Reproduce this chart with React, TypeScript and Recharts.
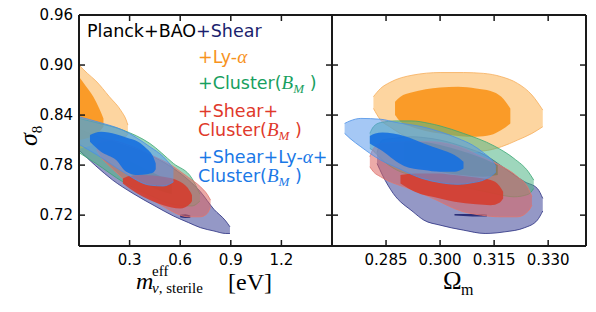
import React from "react";
import { Area, ComposedChart, XAxis, YAxis } from "recharts";

// each contour is a list of [x, sigma8 low, sigma8 high]
type Pt = [number, number, number];

const sigma8Ticks = [0.72, 0.78, 0.84, 0.9, 0.96];
const mNuTicks = [0.3, 0.6, 0.9, 1.2];
const omegaTicks = [0.285, 0.3, 0.315, 0.33];

// left panel: m_nu,sterile [eV] vs sigma8
const shearOuterM: Pt[] = [
  [0, 0.798, 0.823], [0.1, 0.779, 0.815], [0.2, 0.762, 0.808], [0.32, 0.746, 0.8],
  [0.45, 0.731, 0.789], [0.56, 0.719, 0.776], [0.65, 0.711, 0.762], [0.72, 0.705, 0.748],
  [0.8, 0.701, 0.727], [0.87, 0.698, 0.713], [0.895, 0.698, 0.706],
];
const shearInnerM: Pt[] = [[0.6, 0.7175, 0.7205], [0.63, 0.7165, 0.721], [0.66, 0.717, 0.7195]];
const lyaOuterM: Pt[] = [
  [0, 0.8, 0.9], [0.05, 0.803, 0.89], [0.1, 0.806, 0.881], [0.18, 0.81, 0.862],
  [0.25, 0.813, 0.845], [0.28, 0.815, 0.834], [0.29, 0.817, 0.828],
];
const lyaInnerM: Pt[] = [
  [0, 0.81, 0.886], [0.04, 0.812, 0.875], [0.085, 0.815, 0.862], [0.12, 0.82, 0.848], [0.145, 0.826, 0.836],
];
const clusterOuterM: Pt[] = [
  [0, 0.795, 0.836], [0.1, 0.782, 0.831], [0.26, 0.76, 0.822], [0.42, 0.744, 0.806],
  [0.56, 0.733, 0.782], [0.67, 0.731, 0.764], [0.717, 0.737, 0.745],
];
const clusterInnerM: Pt[] = [[0.3, 0.77, 0.785], [0.45, 0.752, 0.77], [0.55, 0.745, 0.76]];
const shearClusterOuterM: Pt[] = [
  [0.105, 0.798, 0.804], [0.14, 0.787, 0.81], [0.165, 0.782, 0.81], [0.32, 0.754, 0.802],
  [0.45, 0.737, 0.79], [0.52, 0.728, 0.783], [0.65, 0.718, 0.765], [0.72, 0.718, 0.754],
  [0.76, 0.722, 0.745], [0.78, 0.73, 0.738],
];
const shearClusterInnerM: Pt[] = [
  [0.26, 0.758, 0.764], [0.3, 0.752, 0.767], [0.38, 0.742, 0.768], [0.5, 0.732, 0.766],
  [0.6, 0.728, 0.76], [0.66, 0.734, 0.748], [0.67, 0.737, 0.744],
];
const allOuterM: Pt[] = [
  [0, 0.805, 0.838], [0.125, 0.79, 0.831], [0.26, 0.772, 0.822], [0.42, 0.756, 0.802],
  [0.5, 0.755, 0.79], [0.56, 0.76, 0.776],
];
const allInnerM: Pt[] = [
  [0.065, 0.808, 0.816], [0.13, 0.796, 0.82], [0.22, 0.786, 0.817], [0.28, 0.772, 0.813],
  [0.35, 0.768, 0.808], [0.4, 0.769, 0.8], [0.44, 0.771, 0.79], [0.455, 0.775, 0.782],
];

// right panel: Omega_m vs sigma8
const shearOuterO: Pt[] = [
  [0.2825, 0.782, 0.795], [0.284, 0.768, 0.81], [0.287, 0.746, 0.812], [0.2925, 0.724, 0.814],
  [0.2955, 0.714, 0.813], [0.3, 0.708, 0.81], [0.3065, 0.702, 0.802], [0.3125, 0.698, 0.792],
  [0.318, 0.7, 0.776], [0.3235, 0.705, 0.76], [0.327, 0.714, 0.752], [0.3285, 0.725, 0.74],
];
const shearInnerO: Pt[] = [[0.304, 0.7195, 0.7215], [0.309, 0.7185, 0.7215], [0.313, 0.7185, 0.7205]];
const lyaOuterO: Pt[] = [
  [0.2815, 0.848, 0.862], [0.2835, 0.834, 0.872], [0.286, 0.826, 0.879], [0.2925, 0.81, 0.888],
  [0.3, 0.801, 0.891], [0.3065, 0.796, 0.891], [0.312, 0.797, 0.89], [0.317, 0.802, 0.886],
  [0.3215, 0.81, 0.878], [0.3255, 0.818, 0.864], [0.3285, 0.826, 0.846],
];
const lyaInnerO: Pt[] = [
  [0.2875, 0.84, 0.856], [0.289, 0.832, 0.862], [0.292, 0.826, 0.867], [0.296, 0.821, 0.871],
  [0.3, 0.818, 0.873], [0.305, 0.815, 0.874], [0.31, 0.814, 0.872], [0.314, 0.816, 0.869],
  [0.317, 0.822, 0.862], [0.3195, 0.83, 0.848],
];
const clusterOuterO: Pt[] = [
  [0.2805, 0.8, 0.818], [0.2815, 0.797, 0.826], [0.2835, 0.788, 0.831], [0.288, 0.774, 0.833],
  [0.292, 0.768, 0.833], [0.297, 0.762, 0.83], [0.3, 0.76, 0.827], [0.3065, 0.754, 0.818],
  [0.315, 0.746, 0.803], [0.3205, 0.742, 0.788], [0.3245, 0.745, 0.772], [0.326, 0.752, 0.762],
];
const clusterInnerO: Pt[] = [
  [0.29, 0.785, 0.808], [0.295, 0.778, 0.808], [0.3, 0.772, 0.804], [0.306, 0.768, 0.797],
  [0.312, 0.766, 0.788], [0.316, 0.768, 0.78],
];
const shearClusterOuterO: Pt[] = [
  [0.2805, 0.778, 0.79], [0.2815, 0.772, 0.8], [0.2835, 0.766, 0.806], [0.2925, 0.75, 0.808],
  [0.297, 0.742, 0.808], [0.3065, 0.724, 0.8], [0.3115, 0.72, 0.79], [0.3165, 0.718, 0.78],
  [0.3215, 0.718, 0.766], [0.3245, 0.725, 0.752], [0.3255, 0.732, 0.742],
];
const shearClusterInnerO: Pt[] = [
  [0.289, 0.758, 0.768], [0.293, 0.748, 0.77], [0.3, 0.74, 0.77], [0.304, 0.736, 0.768],
  [0.31, 0.733, 0.765], [0.314, 0.732, 0.762], [0.3165, 0.735, 0.755], [0.3175, 0.74, 0.748],
];
const allOuterO: Pt[] = [
  [0.2735, 0.818, 0.83], [0.275, 0.812, 0.833], [0.278, 0.802, 0.836], [0.2835, 0.786, 0.835],
  [0.288, 0.777, 0.831], [0.295, 0.764, 0.826], [0.3, 0.759, 0.82], [0.305, 0.757, 0.812],
  [0.309, 0.759, 0.804], [0.312, 0.762, 0.795], [0.3145, 0.768, 0.785], [0.3155, 0.772, 0.778],
];
const allInnerO: Pt[] = [
  [0.2805, 0.806, 0.815], [0.282, 0.802, 0.818], [0.284, 0.797, 0.819], [0.287, 0.787, 0.818],
  [0.29, 0.779, 0.815], [0.2955, 0.774, 0.806], [0.3, 0.772, 0.799], [0.304, 0.772, 0.792],
  [0.3065, 0.776, 0.784],
];

const NAVY = "#1b1f6e";
const ORANGE = "#f7931e";
const GREEN = "#17a060";
const RED = "#e0392b";
const BLUE = "#1a78e6";
const INK = "#1a1a1a";

const styles = {
  shear: { outer: "#3d4397", line: "#2a2f80", inner: "#1f2470" },
  lya: { outer: "#fbb252", line: "#f6ad5a", inner: "#f9951b" },
  cluster: { outer: "#4fb585", line: "#3aa874", inner: "#16955a" },
  shearCluster: { outer: "#dc6460", line: "#e0766f", inner: "#d43d2f" },
  all: { outer: "#5b9bec", line: "#4a8fe6", inner: "#1670e0" },
};

type Layer = { id: string; pts: Pt[]; fill: string; stroke: string; opacity: number; width: number };

const layers = (sets: [keyof typeof styles, Pt[], Pt[]][]): Layer[] =>
  sets.flatMap(([k, outer, inner]) => [
    { id: k + "-o", pts: outer, fill: styles[k].outer, stroke: styles[k].line, opacity: 0.55, width: 0.8 },
    { id: k + "-i", pts: inner, fill: styles[k].inner, stroke: styles[k].inner, opacity: 0.9, width: 0 },
  ]);

const leftLayers = layers([
  ["shear", shearOuterM, shearInnerM],
  ["lya", lyaOuterM, lyaInnerM],
  ["cluster", clusterOuterM, clusterInnerM],
  ["shearCluster", shearClusterOuterM, shearClusterInnerM],
  ["all", allOuterM, allInnerM],
]);
const rightLayers = layers([
  ["shear", shearOuterO, shearInnerO],
  ["lya", lyaOuterO, lyaInnerO],
  ["cluster", clusterOuterO, clusterInnerO],
  ["shearCluster", shearClusterOuterO, shearClusterInnerO],
  ["all", allOuterO, allInnerO],
]);

const rows = (pts: Pt[]) => pts.map(([x, lo, hi]) => ({ x, band: [lo, hi] }));

const Y_DOMAIN: [number, number] = [0.683, 0.96];
const TICK_LEN = 6;
const font = { fill: "#000", fontSize: 15, fontFamily: "DejaVu Sans" };

// inward matplotlib-style tick at the coordinate recharts hands over
function AxisTick(props: any) {
  const { x, y, side } = props;
  const d =
    side === "bottom" ? `M${x},${y}V${y - TICK_LEN}`
    : side === "top" ? `M${x},${y}V${y + TICK_LEN}`
    : side === "right" ? `M${x},${y}H${x - TICK_LEN}`
    : `M${x},${y}H${x + TICK_LEN}`;
  return <path d={d} stroke={INK} strokeWidth={1.5} />;
}

type PanelProps = {
  width: number;
  xDomain: [number, number];
  xTicks: number[];
  fmt: (v: number) => string;
  data: Layer[];
  showY: boolean;
  right: number;
};

// contours plus tick labels
function Contours({ width, xDomain, xTicks, fmt, data, showY, right }: PanelProps) {
  return (
    <ComposedChart width={width} height={312} margin={{ top: 15, right, bottom: 0, left: 0 }}>
      <XAxis
        xAxisId="b"
        dataKey="x"
        type="number"
        domain={xDomain}
        allowDataOverflow
        ticks={xTicks}
        interval={0}
        tickFormatter={fmt}
        height={66}
        tickSize={0}
        tickMargin={8}
        axisLine={false}
        tickLine={false}
        tick={font}
      />
      <YAxis
        yAxisId="l"
        type="number"
        domain={Y_DOMAIN}
        allowDataOverflow
        ticks={sigma8Ticks}
        interval={0}
        tickFormatter={(v: number) => v.toFixed(2)}
        width={showY ? 79 : 0}
        hide={!showY}
        tickSize={0}
        tickMargin={6}
        axisLine={false}
        tickLine={false}
        tick={font}
      />
      {data.map((l) => (
        <Area
          key={l.id}
          xAxisId="b"
          yAxisId="l"
          data={rows(l.pts)}
          dataKey="band"
          type="monotone"
          fill={l.fill}
          fillOpacity={l.opacity}
          stroke={l.stroke}
          strokeWidth={l.width}
          isAnimationActive={false}
        />
      ))}
    </ComposedChart>
  );
}

// box frame with inward ticks on all four sides, laid over the contours
function Frame({ width, xDomain, xTicks, showY, right }: PanelProps) {
  const line = { stroke: INK, strokeWidth: 2 };
  return (
    <ComposedChart
      width={width}
      height={312}
      data={xTicks.map((x) => ({ x }))}
      margin={{ top: 14, right, bottom: 0, left: 0 }}
    >
      <XAxis xAxisId="b" dataKey="x" type="number" domain={xDomain} allowDataOverflow ticks={xTicks}
        interval={0} height={66} tickSize={0} tickMargin={0} axisLine={line} tickLine={false}
        tick={(p: any) => <AxisTick {...p} side="bottom" />} />
      <XAxis xAxisId="t" orientation="top" dataKey="x" type="number" domain={xDomain} allowDataOverflow
        ticks={xTicks} interval={0} height={1} tickSize={0} tickMargin={0} axisLine={line} tickLine={false}
        tick={(p: any) => <AxisTick {...p} side="top" />} />
      <YAxis yAxisId="l" type="number" domain={Y_DOMAIN} allowDataOverflow ticks={sigma8Ticks}
        interval={0} width={showY ? 79 : 1} tickSize={0} tickMargin={0} axisLine={line} tickLine={false}
        tick={(p: any) => <AxisTick {...p} side="left" />} />
      <YAxis yAxisId="r" orientation="right" type="number" domain={Y_DOMAIN} allowDataOverflow
        ticks={sigma8Ticks} interval={0} width={1} tickSize={0} tickMargin={0} axisLine={line}
        tickLine={false} tick={(p: any) => <AxisTick {...p} side="right" />} />
    </ComposedChart>
  );
}

const sans = "DejaVu Sans";
const serif = "Liberation Serif";

function BM({ color }: { color: string }) {
  return (
    <>
      <tspan fontFamily={serif} fontStyle="italic" fontSize={19} fill={color}>B</tspan>
      <tspan fontFamily={serif} fontStyle="italic" fontSize={13} dy={4} fill={color}>M</tspan>
      <tspan dy={-4} fill={color}> )</tspan>
    </>
  );
}

const abs = (left: number): React.CSSProperties => ({ position: "absolute", left, top: 0 });

export default function App() {
  const leftProps: PanelProps = {
    width: 340, xDomain: [0, 1.5], xTicks: mNuTicks, fmt: (v) => v.toFixed(1),
    data: leftLayers, showY: true, right: 8,
  };
  const rightProps: PanelProps = {
    width: 264, xDomain: [0.27, 0.3405], xTicks: omegaTicks, fmt: (v) => v.toFixed(3),
    data: rightLayers, showY: false, right: 10,
  };
  return (
    <div style={{ position: "absolute", left: 0, top: 0, width: 596, height: 312, background: "#fff" }}>
      <div style={abs(0)}><Contours {...leftProps} /></div>
      <div style={abs(332)}><Contours {...rightProps} /></div>
      <div style={abs(0)}><Frame {...leftProps} right={7} /></div>
      <div style={abs(331)}><Frame {...rightProps} width={265} right={9} /></div>
      <svg width={596} height={312} style={{ position: "absolute", left: 0, top: 0, pointerEvents: "none" }}>
        <g fontFamily={sans} fontSize={17.5}>
          <text x={87} y={37}>
            <tspan fill="#000">Planck+BAO</tspan>
            <tspan fill={NAVY}>+Shear</tspan>
          </text>
          <text x={198} y={63} fill={ORANGE}>
            +Ly-<tspan fontFamily={serif} fontStyle="italic" fontSize={19}>α</tspan>
          </text>
          <text x={198} y={89} fill={GREEN}>
            +Cluster(<BM color={GREEN} />
          </text>
          <text x={198} y={117} fill={RED}>+Shear+</text>
          <text x={198} y={136} fill={RED}>
            Cluster(<BM color={RED} />
          </text>
          <text x={198} y={163} fill={BLUE}>
            +Shear+Ly-<tspan fontFamily={serif} fontStyle="italic" fontSize={19}>α</tspan>+
          </text>
          <text x={198} y={182} fill={BLUE}>
            Cluster(<BM color={BLUE} />
          </text>
        </g>
        <g fontFamily={serif} fill="#000">
          <text x={136} y={289} fontSize={24} fontStyle="italic">m</text>
          <text x={152} y={276} fontSize={15}>eff</text>
          <text x={152} y={293} fontSize={15}>
            <tspan fontStyle="italic">ν</tspan>, sterile
          </text>
          <text x={228} y={290} fontSize={24}>[eV]</text>
          <text x={443} y={289} fontSize={25}>Ω</text>
          <text x={461} y={295} fontSize={16}>m</text>
          <text transform="translate(37,146) rotate(-90)">
            <tspan fontSize={26} fontStyle="italic">σ</tspan>
            <tspan fontSize={15} dy={5}>8</tspan>
          </text>
        </g>
      </svg>
    </div>
  );
}
